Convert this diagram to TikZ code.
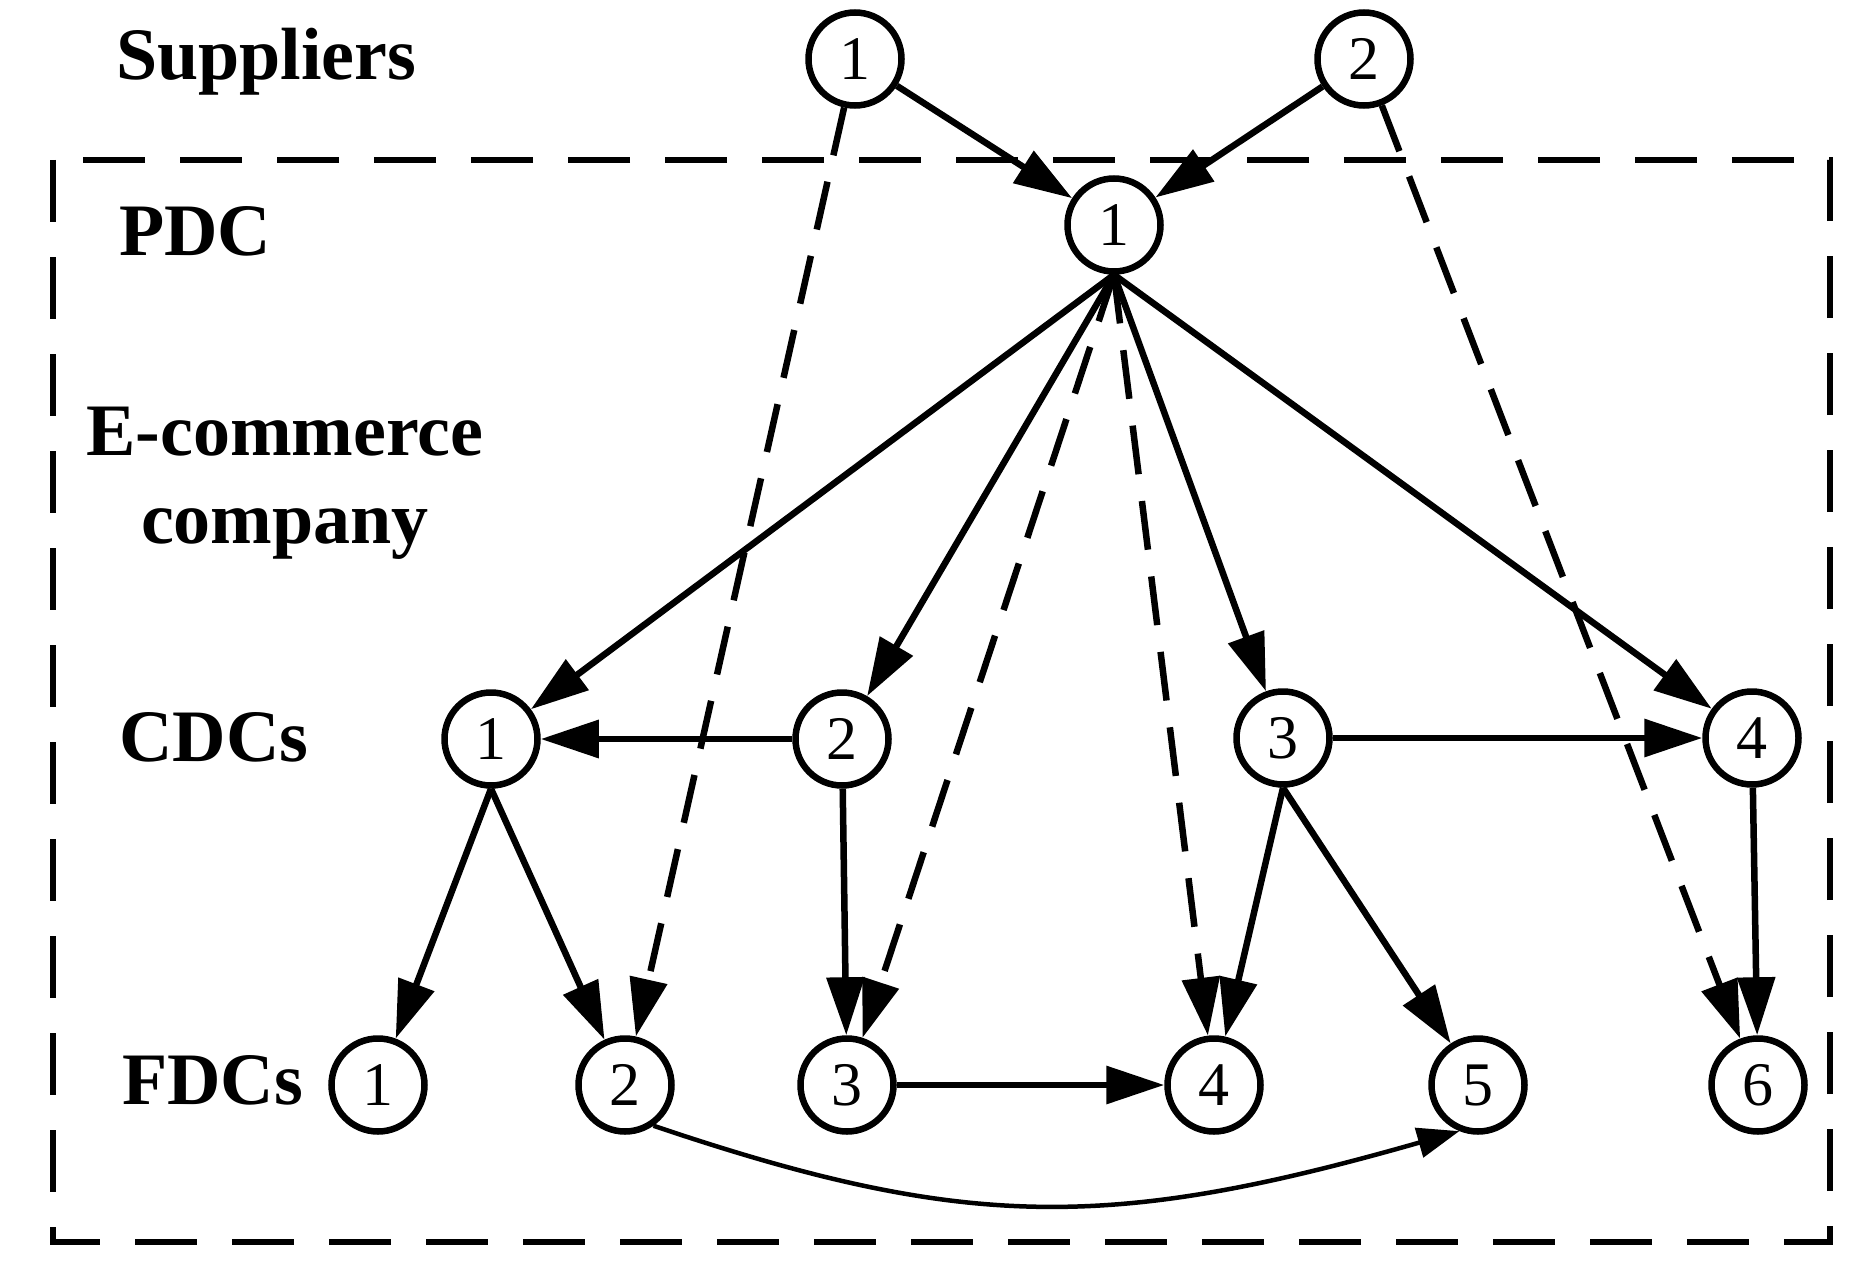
\documentclass[tikz,border=0pt]{standalone}
\usepackage{fontspec}
\setmainfont{Liberation Serif}
\usetikzlibrary{arrows.meta}
\begin{document}
\begin{tikzpicture}[x=1pt,y=-1pt,
  dc/.style={circle,draw,line width=6.5pt,minimum size=93pt,inner sep=0pt,font=\fontsize{62pt}{70pt}\selectfont},
  lab/.style={font=\fontsize{74pt}{88pt}\selectfont\bfseries,anchor=base west,inner sep=0pt},
  flow/.style={line width=6.5pt,-{Triangle[length=58pt,width=37pt]}},
  dflow/.style={flow,dash pattern=on 49pt off 27pt},
  thinflow/.style={line width=4.5pt,-{Triangle[length=42pt,width=30pt]}}
]
\useasboundingbox (0,0) rectangle (1864,1279);
% box
\draw[line width=6pt,dash pattern=on 62pt off 35pt] (53,160) rectangle (1830,1242);
% labels
\node[lab] (lsup) at (116,80) {Suppliers};
\node[lab] (lpdc) at (119,255) {PDC};
\node[lab,anchor=base] (lec1) at (285,455) {E-commerce};
\node[lab,anchor=base] (lec2) at (285,543) {company};
\node[lab] (lcdc) at (119,761) {CDCs};
\node[lab] (lfdc) at (122,1104) {FDCs};
% nodes
\node[dc] (s1) at (855,59) {1};
\node[dc] (s2) at (1364,59) {2};
\node[dc] (p) at (1114,225) {1};
\node[dc] (c1) at (491,739) {1};
\node[dc] (c2) at (842,739) {2};
\node[dc] (c3) at (1283,738) {3};
\node[dc] (c4) at (1752,738) {4};
\node[dc] (f1) at (378,1085) {1};
\node[dc] (f2) at (625,1085) {2};
\node[dc] (f3) at (847,1085) {3};
\node[dc] (f4) at (1214,1085) {4};
\node[dc] (f5) at (1478,1085) {5};
\node[dc] (f6) at (1758,1085) {6};
% edges
\draw[flow] (s1) -- (p);
\draw[flow] (s2) -- (p);
\draw[dflow] (s1) -- (f2);
\draw[dflow] (s2) -- (f6);
\draw[flow] (p.south) -- (c1);
\draw[flow] (p.south) -- (c2);
\draw[flow] (p.south) -- (c3);
\draw[flow] (p.south) -- (c4);
\draw[dflow] (p.south) -- (f3);
\draw[dflow] (p.south) -- (f4);
\draw[flow] (c2) -- (c1);
\draw[flow] (c3) -- (c4);
\draw[flow] (c1.south) -- (f1);
\draw[flow] (c1.south) -- (f2);
\draw[flow] (c2) -- (f3);
\draw[flow] (c3.south) -- (f4);
\draw[flow] (c3.south) -- (f5);
\draw[flow] (c4) -- (f6);
\draw[flow] (f3) -- (f4);
\draw[thinflow] (f2.-55) .. controls (965,1231) and (1110,1231) .. (f5.-112);
\end{tikzpicture}
\end{document}
